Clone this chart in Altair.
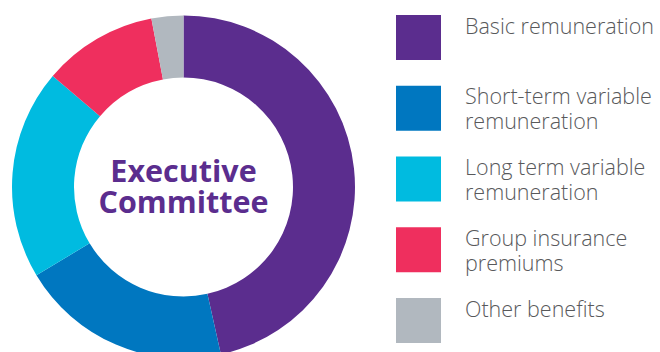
import altair as alt
import pandas as pd

# Executive Committee remuneration mix (% of total)
categories = [
    "Basic remuneration",
    "Short-term variable remuneration",
    "Long term variable remuneration",
    "Group insurance premiums",
    "Other benefits",
]
shares = [46.5, 19.9, 19.8, 10.8, 3.0]
colors = ["#5B2D8E", "#0077C0", "#00BBE0", "#EF2F5E", "#B1B8BF"]

df = pd.DataFrame({"category": categories, "share": shares, "rank": range(len(categories))})

color_scale = alt.Scale(domain=categories, range=colors)

donut = (
    alt.Chart(df)
    .mark_arc(outerRadius=171.5, innerRadius=109.5, strokeWidth=0)
    .encode(
        theta=alt.Theta("share:Q", stack=True),
        order=alt.Order("rank:Q"),
        color=alt.Color("category:N", sort=categories, scale=color_scale, legend=None),
        x=alt.value(183.5),
        y=alt.value(187),
    )
)

# Hand-built legend: one row per category on a point scale
legend_y = alt.Y(
    "category:N",
    sort=categories,
    scale=alt.Scale(type="point", range=[37.5, 320.5], padding=0),
    axis=None,
)

legend_swatches = (
    alt.Chart(df)
    .mark_square(size=2025, opacity=1, strokeWidth=0)
    .encode(
        y=legend_y,
        x=alt.value(418.5),
        color=alt.Color("category:N", sort=categories, scale=color_scale, legend=None),
    )
)

# Labels longer than two words wrap before the last word
legend_labels = (
    alt.Chart(df)
    .transform_calculate(
        words="split(datum.category, ' ')",
        lines="length(datum.words) > 2 ? "
        "[join(slice(datum.words, 0, -1), ' '), peek(datum.words)] : datum.category",
    )
    .mark_text(
        font="Open Sans",
        fontWeight=300,
        fontSize=21.5,
        color="#58595B",
        align="left",
        baseline="alphabetic",
        lineHeight=25,
        dy=-4,
    )
    .encode(y=legend_y, x=alt.value(465), text="lines:N")
)

center_label = (
    alt.Chart(pd.DataFrame({"label": [["Executive", "Committee"]]}))
    .mark_text(
        font="Open Sans",
        fontWeight="bold",
        fontSize=30.5,
        color="#5B2D8E",
        align="center",
        baseline="alphabetic",
        lineHeight=31,
    )
    .encode(text="label:N", x=alt.value(183.5), y=alt.value(182))
)

chart = (
    alt.layer(donut, legend_swatches, legend_labels, center_label)
    .properties(width=660, height=352, padding=0, autosize=alt.AutoSizeParams(type="none"))
    .configure_view(stroke=None)
)

chart.save("out.html", embed_options={"renderer": "svg", "actions": False})
